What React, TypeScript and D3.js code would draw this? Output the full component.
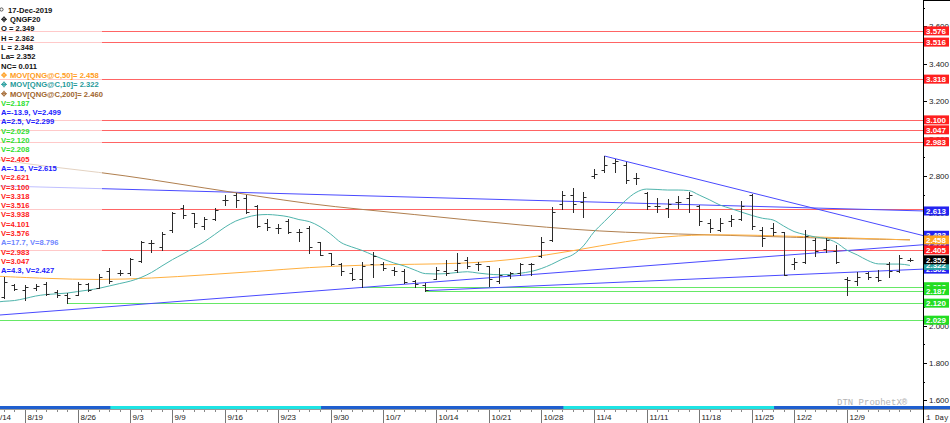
import React from "react";
import * as d3 from "d3";

const dates = [
  "8/14","8/15","8/16","8/19","8/20","8/21","8/22","8/23","8/26","8/27","8/28","8/29","8/30",
  "9/3","9/4","9/5","9/6","9/9","9/10","9/11","9/12","9/13","9/16","9/17","9/18","9/19","9/20","9/23","9/24","9/25","9/26","9/27","9/30",
  "10/1","10/2","10/3","10/4","10/7","10/8","10/9","10/10","10/11","10/14","10/15","10/16","10/17","10/18","10/21","10/22","10/23","10/24","10/25","10/28","10/29","10/30","10/31",
  "11/1","11/4","11/5","11/6","11/7","11/8","11/11","11/12","11/13","11/14","11/15","11/18","11/19","11/20","11/21","11/22","11/25","11/26","11/27","11/29",
  "12/2","12/3","12/4","12/5","12/6","12/9","12/10","12/11","12/12","12/13","12/16","12/17"
];

const opens = [
  2.2,2.155,2.215,2.19,2.2,2.22,2.18,2.165,2.165,2.225,2.2,2.29,2.28,
  2.28,2.345,2.44,2.42,2.51,2.63,2.6,2.53,2.57,2.67,2.7,2.68,2.64,2.55,2.52,2.56,2.5,2.52,2.445,2.39,
  2.33,2.28,2.25,2.33,2.33,2.3,2.29,2.24,2.215,2.25,2.29,2.3,2.35,2.33,2.32,2.24,2.27,2.28,2.33,2.37,2.46,2.65,2.7,
  2.66,2.8,2.83,2.87,2.86,2.79,2.71,2.64,2.63,2.66,2.68,2.64,2.55,2.51,2.56,2.57,2.7,2.51,2.52,2.5,
  2.33,2.34,2.46,2.41,2.4,2.25,2.24,2.28,2.26,2.33,2.29,2.349
];
const highs = [
  2.24,2.262,2.225,2.217,2.225,2.235,2.19,2.173,2.231,2.229,2.274,2.306,2.297,
  2.36,2.452,2.458,2.502,2.606,2.645,2.604,2.579,2.627,2.698,2.707,2.698,2.645,2.568,2.543,2.568,2.515,2.535,2.449,2.39,
  2.333,2.306,2.342,2.395,2.342,2.315,2.301,2.244,2.226,2.315,2.351,2.387,2.365,2.342,2.32,2.306,2.288,2.336,2.333,2.472,2.636,2.72,2.734,
  2.716,2.836,2.907,2.889,2.876,2.818,2.716,2.68,2.675,2.693,2.716,2.645,2.568,2.574,2.591,2.668,2.704,2.529,2.55,2.502,
  2.36,2.511,2.467,2.467,2.431,2.261,2.288,2.288,2.297,2.342,2.378,2.362
];
const lows = [
  2.15,2.146,2.19,2.137,2.19,2.164,2.155,2.12,2.164,2.187,2.2,2.226,2.27,
  2.27,2.342,2.395,2.404,2.502,2.574,2.529,2.515,2.565,2.645,2.636,2.604,2.529,2.511,2.497,2.497,2.452,2.39,2.378,2.324,
  2.27,2.244,2.208,2.262,2.297,2.27,2.229,2.208,2.187,2.248,2.27,2.288,2.306,2.297,2.212,2.229,2.253,2.27,2.27,2.365,2.454,2.622,2.609,
  2.579,2.788,2.82,2.823,2.764,2.757,2.622,2.609,2.579,2.627,2.609,2.538,2.502,2.508,2.533,2.565,2.515,2.426,2.484,2.27,
  2.301,2.333,2.372,2.395,2.333,2.164,2.217,2.248,2.24,2.258,2.288,2.348
];
const closes = [
  2.17,2.235,2.197,2.205,2.21,2.17,2.165,2.15,2.225,2.19,2.26,2.24,2.28,
  2.355,2.445,2.44,2.49,2.6,2.59,2.55,2.57,2.62,2.67,2.67,2.61,2.535,2.525,2.52,2.5,2.5,2.42,2.38,2.33,
  2.29,2.25,2.32,2.37,2.31,2.29,2.235,2.22,2.19,2.3,2.28,2.335,2.32,2.33,2.25,2.27,2.28,2.33,2.33,2.445,2.61,2.7,2.65,
  2.69,2.81,2.86,2.88,2.78,2.79,2.64,2.64,2.65,2.66,2.7,2.56,2.52,2.55,2.57,2.64,2.53,2.47,2.5,2.27,
  2.34,2.48,2.4,2.46,2.34,2.245,2.26,2.26,2.245,2.29,2.36,2.352
];

const ma10 = [
  2.124,2.13,2.134,2.145,2.158,2.166,2.17,2.174,2.182,2.19,2.199,2.212,2.225,
  2.238,2.257,2.284,2.319,2.353,2.383,2.415,2.448,2.487,2.527,2.559,2.578,2.591,2.594,2.59,2.582,2.567,2.556,2.529,2.49,
  2.444,2.421,2.402,2.378,2.355,2.335,2.319,2.297,2.278,2.276,2.278,2.284,2.288,2.281,2.275,2.272,2.273,2.28,2.289,2.305,2.328,2.356,2.379,
  2.426,2.5,2.557,2.613,2.669,2.712,2.73,2.728,2.725,2.725,2.722,2.698,2.672,2.644,2.626,2.607,2.589,2.574,2.565,2.533,
  2.503,2.487,2.474,2.466,2.444,2.404,2.378,2.348,2.33,2.329,2.329,2.322
];

const maDates = ["8/14","8/21","8/28","9/5","9/12","9/19","9/26","10/3","10/10","10/17","10/24","10/31","11/7","11/14","11/21","11/29","12/6","12/17"];
const ma50 = [2.265,2.252,2.244,2.253,2.271,2.289,2.312,2.324,2.328,2.332,2.356,2.399,2.452,2.484,2.487,2.479,2.471,2.458];
const ma200 = [2.891,2.851,2.821,2.781,2.736,2.693,2.65,2.621,2.594,2.565,2.538,2.514,2.498,2.49,2.482,2.474,2.466,2.459];

const redLevels = [3.576, 3.516, 3.318, 3.1, 3.047, 2.983, 2.621, 2.405];
const greenLevels = [2.029, 2.12, 2.208, 2.187];
const greenFrom = ["8/14", "8/23", "10/3", "10/11"];

const trendFrom = ["8/14", "11/5", "10/11", "8/14"];
const trendFromVal = [2.748, 2.907, 2.187, 2.054];
const trendToVal = [2.615, 2.499, 2.299, 2.427];

const legendText = [
  "17-Dec-2019", "QNGF20", "O = 2.349", "H = 2.362", "L = 2.348", "La= 2.352", "NC= 0.011",
  "MOV[QNG@C,50]= 2.458", "MOV[QNG@C,10]= 2.322", "MOV[QNG@C,200]= 2.460",
  "V=2.187", "A=-13.9, V=2.499", "A=2.5, V=2.299", "V=2.029", "V=2.120", "V=2.208", "V=2.405",
  "A=-1.5, V=2.615", "V=2.621", "V=3.100", "V=3.318", "V=3.516", "V=3.938", "V=4.101", "V=3.576",
  "A=17.7, V=8.796", "V=2.983", "V=3.047", "A=4.3, V=2.427"
];
const legendColor = [
  "#111", "#111", "#111", "#111", "#111", "#111", "#111",
  "#ff9c1a", "#1f9a9a", "#a0642c",
  "#2ee02e", "#2020ff", "#2020ff", "#2ee02e", "#2ee02e", "#2ee02e", "#ff2020",
  "#2020ff", "#ff2020", "#ff2020", "#ff2020", "#ff2020", "#ff2020", "#ff2020", "#ff2020",
  "#6f86ff", "#ff2020", "#ff2020", "#2020ff"
];
const legendIcon = [false, true, false, false, false, false, false, true, true, true];

const axisTicks = [1.6, 1.8, 2.0, 2.2, 2.4, 2.6, 2.8, 3.0, 3.2, 3.4, 3.6];

const tagValues = [3.576, 3.516, 3.318, 3.1, 3.047, 2.983, 2.613, 2.483, 2.432, 2.458, 2.405, 2.302, 2.322, 2.352, 2.208, 2.187, 2.12, 2.029];
const tagColors = ["#ff1f1f", "#ff1f1f", "#ff1f1f", "#ff1f1f", "#ff1f1f", "#ff1f1f", "#2323f0", "#2323f0", "#2323f0", "#ffa41f", "#ff1f1f", "#2323f0", "#28a3a3", "#000000", "#22dd22", "#22dd22", "#22dd22", "#22dd22"];

const weekStarts = ["8/14","8/19","8/26","9/3","9/9","9/16","9/23","9/30","10/7","10/14","10/21","10/28","11/4","11/11","11/18","11/25","12/2","12/9"];

const W = 950;
const H = 423;
const AXIS_X = 923;
const PLOT_BOTTOM = 405;

export default function App() {
  const x = d3.scalePoint<string>().domain(dates).range([-6.6, -6.6 + 10.535 * (dates.length - 1)]);
  const step = x.step();
  const y = d3.scaleLinear().domain([2.0, 3.6]).range([325.6, 26.4]);
  const px = (d: string) => x(d) as number;
  const idxAt = (xp: number) => (xp - px(dates[0])) / step;

  const ma10Line = d3.line<number>().x((_, i) => px(dates[i])).y((v) => y(v)).curve(d3.curveMonotoneX)(ma10) || "";
  const maLine = (vals: number[]) =>
    d3.line<number>().x((_, i) => px(maDates[i])).y((v) => y(v)).curve(d3.curveBasis)(vals) || "";

  const lastIdx = dates.length - 1;
  const trends = trendFrom.map((d, k) => {
    const i0 = dates.indexOf(d);
    const slope = (trendToVal[k] - trendFromVal[k]) / (lastIdx - i0);
    const iEnd = idxAt(AXIS_X);
    return { x1: px(d), y1: y(trendFromVal[k]), x2: AXIS_X, y2: y(trendFromVal[k] + slope * (iEnd - i0)) };
  });

  const months: { start: number; n: number; m: string }[] = [];
  dates.forEach((d, i) => {
    const m = d.split("/")[0];
    if (!months.length || months[months.length - 1].m !== m) months.push({ start: i, n: 1, m });
    else months[months.length - 1].n++;
  });
  const BAND_SHIFT = 20;

  const font = "'Liberation Sans', Arial, sans-serif";
  const mono = "'Liberation Mono', 'Courier New', monospace";

  return (
    <svg width={W} height={H} style={{ position: "absolute", left: 0, top: 0, display: "block", background: "#fff" }}>
      <defs>
        <clipPath id="plot">
          <rect x={0} y={0} width={AXIS_X} height={PLOT_BOTTOM} />
        </clipPath>
      </defs>
      <rect x={0} y={0} width={W} height={H} fill="#fff" />
      <g clipPath="url(#plot)">
        {redLevels.map((v, k) => (
          <line key={"r" + k} x1={0} x2={AXIS_X} y1={Math.round(y(v)) + 0.5} y2={Math.round(y(v)) + 0.5} stroke="#ff6464" strokeWidth={1} />
        ))}
        {greenLevels.map((v, k) => (
          <line key={"g" + k} x1={px(greenFrom[k])} x2={AXIS_X} y1={Math.round(y(v)) + 0.5} y2={Math.round(y(v)) + 0.5} stroke="#66e866" strokeWidth={1.2} />
        ))}
        {trends.map((t, k) => (
          <line key={"t" + k} x1={t.x1} y1={t.y1} x2={t.x2} y2={t.y2} stroke="#4a4aff" strokeWidth={1} />
        ))}
        <path d={maLine(ma200)} fill="none" stroke="#b07f4f" strokeWidth={1} />
        <path d={maLine(ma50)} fill="none" stroke="#ffb040" strokeWidth={1} />
        <path d={ma10Line} fill="none" stroke="#4fb4ac" strokeWidth={1} />
        <rect x={0} y={0} width={102} height={275} fill="#fff" opacity={0.65} />
        {dates.map((d, i) => {
          const cx = Math.round(px(d)) + 0.5;
          const yo = Math.round(y(opens[i])) + 0.5;
          const yc = Math.round(y(closes[i])) + 0.5;
          return (
            <g key={"b" + i} stroke="#2b2b2b" strokeWidth={1}>
              <line x1={cx} x2={cx} y1={Math.round(y(highs[i]))} y2={Math.round(y(lows[i])) + 1} />
              <line x1={cx - 3} x2={cx} y1={yo} y2={yo} />
              <line x1={cx} x2={cx + 3} y1={yc} y2={yc} />
            </g>
          );
        })}
        <text x={837} y={405} fontFamily={mono} fontSize={9} fill="#b4b4b4">DTN ProphetX®</text>
      </g>

      {legendText.map((t, i) => {
        const yy = 10 + 9.3 * i;
        const icon = legendIcon[i];
        const tx = i === 0 ? 8 : icon ? 10 : 1;
        return (
          <g key={"l" + i}>
            {icon && (
              <g stroke={legendColor[i]} fill="none" strokeWidth={0.9}>
                <circle cx={4} cy={yy} r={1.8} />
                <line x1={4} x2={4} y1={yy - 3} y2={yy + 3} />
                <line x1={1} x2={7} y1={yy} y2={yy} />
              </g>
            )}
            {i === 0 && <circle cx={1.5} cy={yy - 0.5} r={1.6} fill="none" stroke="#333" strokeWidth={0.8} />}
            <text x={tx} y={yy + 2.8} fontFamily={font} fontSize={7.6} fontWeight="bold" fill={legendColor[i]}>{t}</text>
          </g>
        );
      })}

      <rect x={0} y={406} width={W} height={3} fill="#1f5fcf" />
      {months.map((m, k) =>
        k % 2 === 1 ? (
          <rect key={"m" + k} x={px(dates[m.start]) - BAND_SHIFT} y={406} width={m.n * step} height={3} fill="#1ee4e4" />
        ) : null
      )}
      <line x1={0} x2={W} y1={409.5} y2={409.5} stroke="#9a9a9a" strokeWidth={1} />
      {dates.map((d, i) => (
        <line key={"mt" + i} x1={Math.round(px(d)) + 0.5} x2={Math.round(px(d)) + 0.5} y1={410} y2={412} stroke="#888" />
      ))}
      {weekStarts.map((d) => {
        const cx = Math.round(px(d)) + 0.5;
        return (
          <g key={"w" + d}>
            <line x1={cx} x2={cx} y1={410} y2={H} stroke="#777" />
            <text x={cx + 2} y={420} fontFamily={font} fontSize={8} fill="#222">{d}</text>
          </g>
        );
      })}

      <rect x={AXIS_X} y={0} width={W - AXIS_X} height={406} fill="#fff" />
      <line x1={AXIS_X + 0.5} x2={AXIS_X + 0.5} y1={0} y2={H} stroke="#000" />
      <line x1={AXIS_X} x2={W} y1={0.5} y2={0.5} stroke="#000" />
      <rect x={AXIS_X + 1} y={410} width={W - AXIS_X - 1} height={13} fill="#fff" />
      <text x={926} y={420} fontFamily={mono} fontSize={7.5} fill="#222">1 Day</text>
      {d3.range(1.6, 3.701, 0.1).map((v, k) => (
        <line key={"at" + k} x1={AXIS_X} x2={AXIS_X + (k % 2 === 0 ? 4 : 2)} y1={Math.round(y(v)) + 0.5} y2={Math.round(y(v)) + 0.5} stroke="#000" />
      ))}
      {axisTicks.map((v) => (
        <text key={"al" + v} x={929} y={y(v) + 3} fontFamily={font} fontSize={8} fill="#222">{v.toFixed(3)}</text>
      ))}
      {tagValues.map((v, k) => (
        <g key={"tg" + k}>
          <rect x={AXIS_X + 1} y={y(v) - 4.5} width={25} height={9} fill={tagColors[k]} />
          <text x={AXIS_X + 3} y={y(v) + 3} fontFamily={font} fontSize={8} fontWeight="bold" fill="#fff">{v.toFixed(3)}</text>
        </g>
      ))}
    </svg>
  );
}
